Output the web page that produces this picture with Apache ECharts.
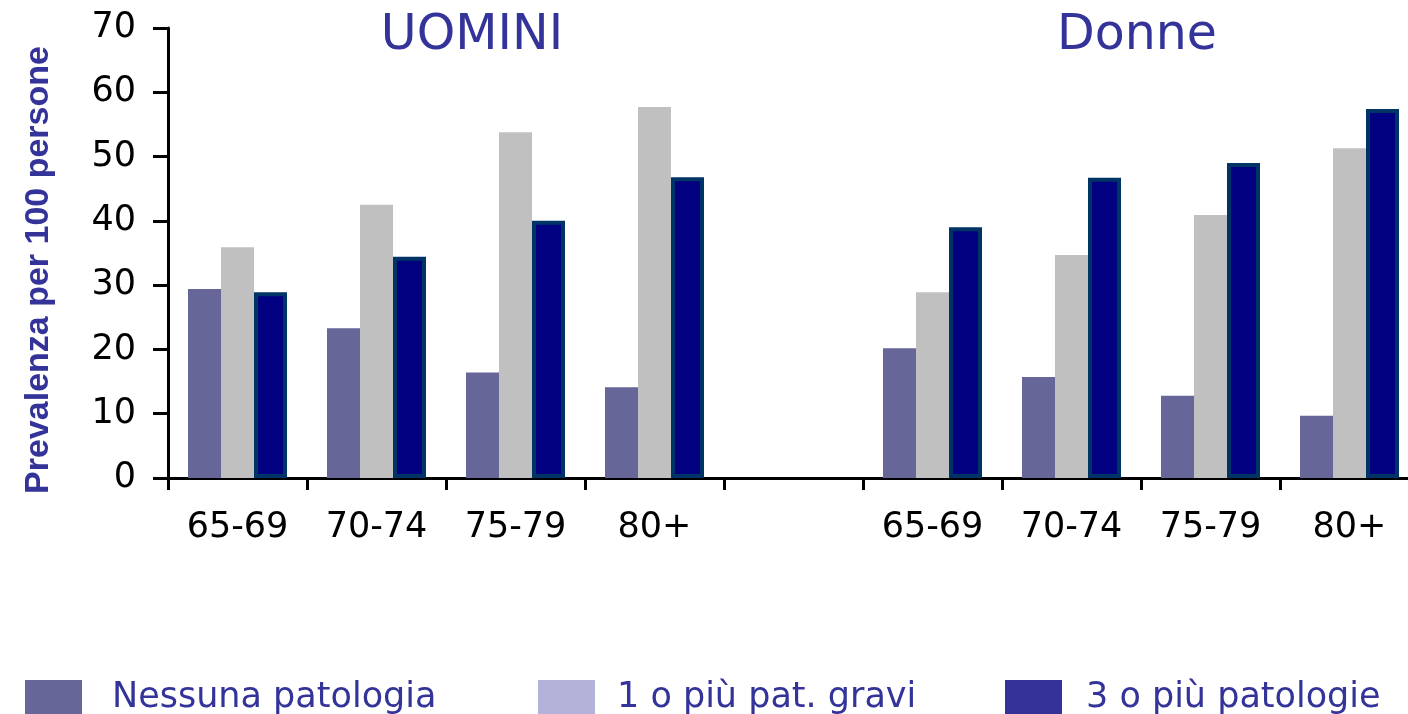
<!DOCTYPE html>
<html>
<head>
<meta charset="utf-8">
<script src="https://cdn.jsdelivr.net/npm/echarts@6/dist/echarts.min.js"></script>
<style>
  html, body { margin: 0; padding: 0; background: #fff; }
  #chart { width: 1408px; height: 714px; }
</style>
</head>
<body>
<div id="chart"></div>
<script>
// categorie: uomini, colonna vuota, donne
var categories = ['65-69', '70-74', '75-79', '80+', '', '65-69', '70-74', '75-79', '80+'];
var yTicks = [0, 10, 20, 30, 40, 50, 60, 70];

var nessuna = [29.4, 23.3, 16.4, 14.1, '-', 20.2, 15.7, 12.8, 9.7];
var gravi = [35.9, 42.5, 53.8, 57.7, '-', 28.9, 34.7, 40.9, 51.3];
var treOPiu = [28.9, 34.4, 40.0, 46.8, '-', 39.0, 46.7, 49.0, 57.4];

var seriesNames = ['Nessuna patologia', '1 o più pat. gravi', '3 o più patologie'];

var chart = echarts.init(document.getElementById('chart'));

var legendText = {
  color: '#333399',
  fontFamily: 'DejaVu Sans',
  fontSize: 35
};

var option = {
  animation: false,
  backgroundColor: '#fff',
  graphic: [
    {
      type: 'text',
      x: 472, y: 36,
      style: {
        text: 'UOMINI', align: 'center', verticalAlign: 'middle',
        font: '49px "DejaVu Sans"', fill: '#333399'
      }
    },
    {
      type: 'text',
      x: 1137, y: 36,
      style: {
        text: 'Donne', align: 'center', verticalAlign: 'middle',
        font: '49px "DejaVu Sans"', fill: '#333399'
      }
    }
  ],
  grid: {
    left: 168,
    right: -11,
    top: 28,
    bottom: 236,
    containLabel: false,
    outerBoundsMode: 'none'
  },
  legend: [
    {
      left: 20, top: 675,
      icon: 'rect', itemWidth: 57, itemHeight: 35,
      textStyle: Object.assign({ padding: [0, 0, 0, 25] }, legendText),
      data: [{ name: seriesNames[0], itemStyle: { color: '#666699', borderWidth: 0 } }]
    },
    {
      left: 533, top: 675,
      icon: 'rect', itemWidth: 57, itemHeight: 35,
      textStyle: Object.assign({ padding: [0, 0, 0, 17] }, legendText),
      data: [{ name: seriesNames[1], itemStyle: { color: '#b3b3d9', borderWidth: 0 } }]
    },
    {
      left: 1000, top: 675,
      icon: 'rect', itemWidth: 57, itemHeight: 35,
      textStyle: Object.assign({ padding: [0, 0, 0, 19] }, legendText),
      data: [{ name: seriesNames[2], itemStyle: { color: '#333399', borderWidth: 0 } }]
    }
  ],
  xAxis: {
    type: 'category',
    data: categories,
    axisLine: { lineStyle: { color: '#000', width: 3 } },
    axisTick: { show: true, length: 12, lineStyle: { color: '#000', width: 3 } },
    axisLabel: {
      color: '#000',
      fontFamily: 'DejaVu Sans',
      fontSize: 35,
      margin: 32,
      interval: 0
    }
  },
  yAxis: {
    type: 'value',
    min: 0,
    max: 70,
    interval: 10,
    name: 'Prevalenza per 100 persone',
    nameLocation: 'middle',
    nameGap: 112,
    nameTextStyle: {
      color: '#333399',
      fontFamily: 'Liberation Sans',
      fontWeight: 'bold',
      fontSize: 34,
      padding: [0, 34, 0, 0]
    },
    axisLine: { show: true, lineStyle: { color: '#000', width: 3 } },
    axisTick: { show: true, length: 15, lineStyle: { color: '#000', width: 3 } },
    splitLine: { show: false },
    axisLabel: {
      color: '#000',
      fontFamily: 'DejaVu Sans',
      fontSize: 35,
      margin: 32,
      formatter: function (v) { return yTicks.indexOf(v) >= 0 ? String(v) : ''; }
    }
  },
  series: [
    {
      name: seriesNames[0],
      type: 'bar',
      data: nessuna,
      barWidth: 33,
      barGap: '0%',
      itemStyle: { color: '#666699' }
    },
    {
      name: seriesNames[1],
      type: 'bar',
      data: gravi,
      barWidth: 33,
      barGap: '0%',
      itemStyle: { color: '#c0c0c0' }
    },
    {
      name: seriesNames[2],
      type: 'bar',
      data: treOPiu,
      barWidth: 33,
      barGap: '0%',
      itemStyle: { color: '#000080', borderColor: '#003366', borderWidth: 4 }
    }
  ]
};

chart.setOption(option);
</script>
</body>
</html>
